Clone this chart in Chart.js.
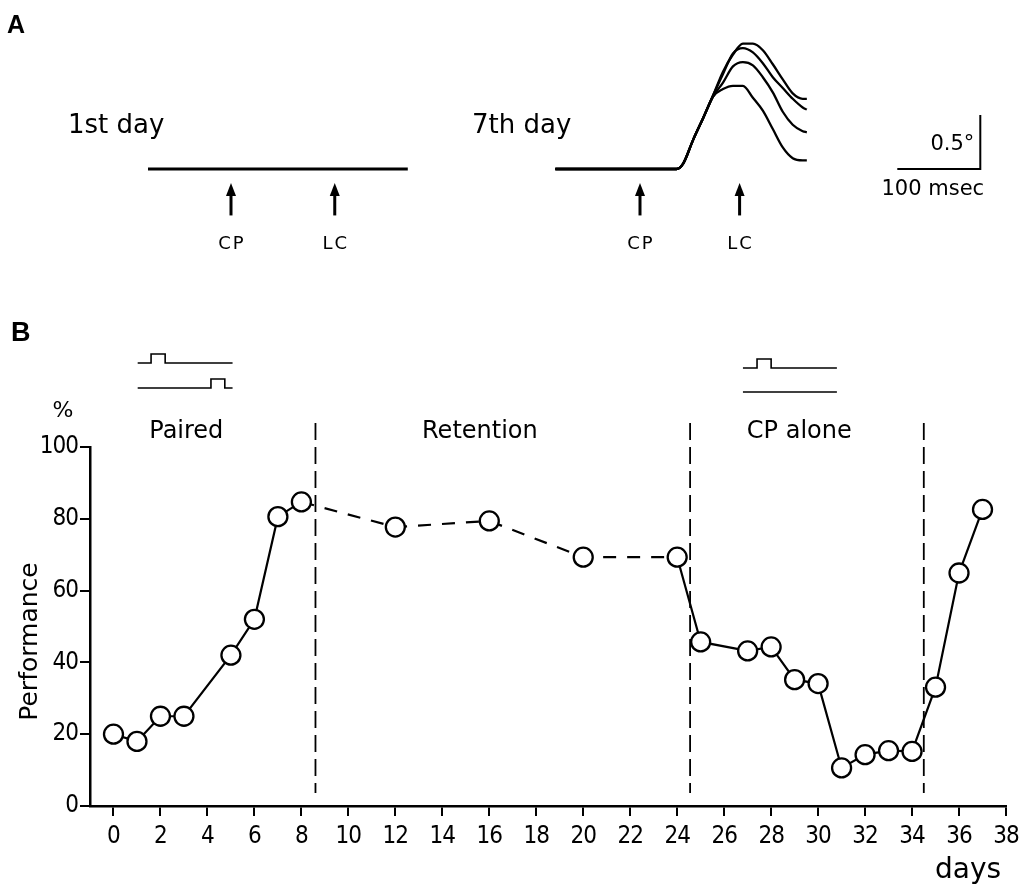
<!DOCTYPE html>
<html>
<head>
<meta charset="utf-8">
<script src="https://cdn.jsdelivr.net/npm/chart.js@4.4.1/dist/chart.umd.min.js"></script>
<style>
  html, body { margin:0; padding:0; background:#fff; }
  body { width:1032px; height:885px; position:relative; overflow:hidden; }
  canvas { position:absolute; }
</style>
</head>
<body>
<canvas id="traceDay1" width="450" height="290" style="left:0;top:0"></canvas>
<canvas id="traceDay7" width="582" height="290" style="left:450px;top:0"></canvas>
<canvas id="perfChart" width="1032" height="595" style="left:0;top:290px"></canvas>
<script>
// panel B: performance per training day
const days = [0, 1, 2, 3, 5, 6, 7, 8, 12, 16, 20, 24, 25, 27, 28, 29, 30, 31, 32, 33, 34, 35, 36, 37];
const performance = [20, 18, 25, 25, 42, 52, 80.6, 84.7, 77.7, 79.4, 69.3, 69.3, 45.7, 43.2, 44.3, 35.2, 34.1, 10.6, 14.3, 15.4, 15.2, 33.1, 64.9, 82.6];
const xTicks = [0, 2, 4, 6, 8, 10, 12, 14, 16, 18, 20, 22, 24, 26, 28, 30, 32, 34, 36, 38];
const yTicks = [0, 20, 40, 60, 80, 100];
const phaseNames = ['Paired', 'Retention', 'CP alone'];
const phaseLabelDay = [3.1, 15.6, 29.2];
const phaseBreaks = [8.6, 24.55, 34.5];
const retentionDays = [8, 24];   // joined by the dashed line

// panel A: eyelid traces, ms from CP onset vs degrees
const day1Ms = [-100, 213];
const day1Deg = [0, 0];
const day7Ms = [-102, 44, 52, 64, 76, 88, 100, 112, 124, 136, 148, 160, 172, 184, 196, 201];
const day7Deg = [
  [0, 0, 0.05, 0.27, 0.47, 0.68, 0.90, 1.06, 1.16, 1.16, 1.10, 0.97, 0.83, 0.70, 0.65, 0.65],
  [0, 0, 0.05, 0.27, 0.47, 0.68, 0.88, 1.07, 1.12, 1.08, 0.98, 0.85, 0.75, 0.65, 0.57, 0.55],
  [0, 0, 0.05, 0.27, 0.47, 0.67, 0.80, 0.95, 0.99, 0.96, 0.85, 0.71, 0.53, 0.41, 0.35, 0.34],
  [0, 0, 0.05, 0.27, 0.47, 0.67, 0.74, 0.77, 0.77, 0.66, 0.54, 0.37, 0.20, 0.10, 0.08, 0.08]
];
const stimDay1 = [0, 125];   // CP, LC onset (ms)
const stimDay7 = [0, 120];
const stimNames = ['CP', 'LC'];
const scaleBar = { ms: 100, deg: 0.5, at: 310 };

Chart.defaults.font.family = '"DejaVu Sans", sans-serif';
Chart.defaults.color = '#000';
Chart.defaults.animation = false;

const PX_PER_MS = 0.83, PX_PER_DEG = 108, BASE_Y = 169, A_HEIGHT = 290;
const TEXT_FONT = '"DejaVu Sans", sans-serif';

function drawArrow(ctx, x, yTop, yBot){
  ctx.save();
  ctx.strokeStyle = '#000';
  ctx.fillStyle = '#000';
  ctx.lineWidth = 3;
  ctx.beginPath();
  ctx.moveTo(x, yTop + 8);
  ctx.lineTo(x, yBot);
  ctx.stroke();
  ctx.beginPath();
  ctx.moveTo(x, yTop);
  ctx.lineTo(x - 5, yTop + 13);
  ctx.lineTo(x + 5, yTop + 13);
  ctx.closePath();
  ctx.fill();
  ctx.restore();
}

function traceChart(id, left, width, cpX, datasets, stim, extra){
  const xs = { type:'linear', display:false, min:(left - cpX) / PX_PER_MS, max:(left + width - cpX) / PX_PER_MS };
  const ys = { type:'linear', display:false, min:-(A_HEIGHT - BASE_Y) / PX_PER_DEG, max:BASE_Y / PX_PER_DEG };
  return new Chart(document.getElementById(id), {
    type: 'line',
    data: { datasets },
    options: {
      responsive: false,
      layout: { padding: 0 },
      scales: { x: xs, y: ys },
      elements: { point: { radius: 0 }, line: { cubicInterpolationMode: 'monotone', borderColor: '#000', borderWidth: 2 } },
      plugins: { legend: { display: false }, tooltip: { enabled: false } }
    },
    plugins: [{
      id: 'stimMarks',
      afterDraw(c){
        const {ctx} = c;
        const x = c.scales.x, y = c.scales.y;
        stim.forEach((t, i) => {
          const px = x.getPixelForValue(t);
          drawArrow(ctx, px, y.getPixelForValue(-0.13), y.getPixelForValue(-0.43));
          ctx.save();
          ctx.font = '18px ' + TEXT_FONT;
          ctx.letterSpacing = '2px';
          ctx.textAlign = 'center';
          ctx.textBaseline = 'middle';
          ctx.fillText(stimNames[i], px + 1, y.getPixelForValue(-0.70));
          ctx.restore();
        });
        if(extra) extra(c);
      }
    }]
  });
}

traceChart('traceDay1', 0, 450, 231,
  [{ data: day1Ms.map((t, i) => ({x:t, y:day1Deg[i]})), borderWidth: 3.2 }],
  stimDay1,
  c => {
    const {ctx} = c;
    ctx.save();
    ctx.font = 'bold 25px "Liberation Sans", Arial, sans-serif';
    ctx.textBaseline = 'middle';
    ctx.fillText('A', 7, 26);
    ctx.font = '26px ' + TEXT_FONT;
    ctx.textBaseline = 'alphabetic';
    ctx.fillText('1st day', 68, 133);
    ctx.restore();
  });

traceChart('traceDay7', 450, 582, 640,
  day7Deg.map(d => ({ data: day7Ms.map((t, i) => ({x:t, y:d[i]})), borderWidth: 2.3 })),
  stimDay7,
  c => {
    const {ctx} = c;
    const x = c.scales.x, y = c.scales.y;
    const x0 = x.getPixelForValue(scaleBar.at), x1 = x.getPixelForValue(scaleBar.at + scaleBar.ms);
    const y0 = y.getPixelForValue(0), y1 = y.getPixelForValue(scaleBar.deg);
    ctx.save();
    ctx.strokeStyle = '#000';
    ctx.lineWidth = 2;
    ctx.beginPath();
    ctx.moveTo(x0, y0); ctx.lineTo(x1, y0); ctx.lineTo(x1, y1);
    ctx.stroke();
    ctx.font = '21px ' + TEXT_FONT;
    ctx.textBaseline = 'middle';
    ctx.textAlign = 'right';
    ctx.fillText('0.5°', x1 - 6, y.getPixelForValue(0.23));
    ctx.textAlign = 'center';
    ctx.fillText('100 msec', (x0 + x1) / 2 - 6, y.getPixelForValue(-0.19));
    ctx.font = '26px ' + TEXT_FONT;
    ctx.textAlign = 'left';
    ctx.textBaseline = 'alphabetic';
    ctx.fillText('7th day', 472 - 450, 133);
    ctx.restore();
  });

// stimulus timing sketches above panel B
const stimSketches = [
  { from: 1.03, to: 5.07, rows: [[1.6, 2.2], [4.15, 4.74]], lift: [84, 59] },
  { from: 26.8, to: 30.8, rows: [[27.4, 28.0], null], lift: [79, 55] }
];

const perfAnnotations = {
  id: 'perfAnnotations',
  beforeDraw(c){
    c.ctx.letterSpacing = '-1px';   // narrower tick digits
  },
  beforeDatasetsDraw(c){
    const {ctx, chartArea} = c;
    const x = c.scales.x;
    ctx.save();
    ctx.strokeStyle = '#000';
    ctx.lineWidth = 1.8;
    ctx.setLineDash([17, 7]);
    phaseBreaks.forEach(d => {
      const px = x.getPixelForValue(d);
      ctx.beginPath();
      ctx.moveTo(px, chartArea.top - 24);
      ctx.lineTo(px, chartArea.bottom - 13);
      ctx.stroke();
    });
    ctx.restore();
  },
  afterDraw(c){
    const {ctx, chartArea} = c;
    const x = c.scales.x;
    ctx.save();
    ctx.letterSpacing = '0px';
    ctx.fillStyle = '#000';
    ctx.strokeStyle = '#000';

    ctx.font = 'bold 27px "Liberation Sans", Arial, sans-serif';
    ctx.textBaseline = 'middle';
    ctx.fillText('B', 11, chartArea.top - 113);

    ctx.font = '24px ' + TEXT_FONT;
    ctx.textAlign = 'center';
    phaseNames.forEach((n, i) => ctx.fillText(n, x.getPixelForValue(phaseLabelDay[i]), chartArea.top - 15));

    ctx.font = '22px ' + TEXT_FONT;
    ctx.fillText('%', 63, chartArea.top - 36);

    ctx.save();
    ctx.translate(30, (chartArea.top + chartArea.bottom) / 2 + 15);
    ctx.rotate(-Math.PI / 2);
    ctx.font = '25px ' + TEXT_FONT;
    ctx.fillText('Performance', 0, 0);
    ctx.restore();

    ctx.font = '28px ' + TEXT_FONT;
    ctx.textBaseline = 'alphabetic';
    ctx.fillText('days', 968, 588);

    ctx.lineWidth = 1.6;
    stimSketches.forEach(s => {
      const a = x.getPixelForValue(s.from), b = x.getPixelForValue(s.to);
      s.rows.forEach((p, r) => {
        const yy = chartArea.top - s.lift[r];
        ctx.beginPath();
        if(p){
          const p0 = x.getPixelForValue(p[0]), p1 = x.getPixelForValue(p[1]);
          ctx.moveTo(a, yy); ctx.lineTo(p0, yy); ctx.lineTo(p0, yy - 9);
          ctx.lineTo(p1, yy - 9); ctx.lineTo(p1, yy); ctx.lineTo(b, yy);
        } else {
          ctx.moveTo(a, yy); ctx.lineTo(b, yy);
        }
        ctx.stroke();
      });
    });
    ctx.restore();
  }
};

const tickFont = { family: '"Liberation Sans Narrow", "DejaVu Sans Condensed", "DejaVu Sans", sans-serif', size: 24 };
const axisGrid = { display: true, drawOnChartArea: false, drawTicks: true, tickLength: 10, color: '#000', lineWidth: 2 };

new Chart(document.getElementById('perfChart'), {
  type: 'line',
  data: {
    datasets: [{
      data: days.map((d, i) => ({x:d, y:performance[i]})),
      borderColor: '#000',
      borderWidth: 2.2,
      pointRadius: 9.5,
      pointBorderWidth: 2.3,
      pointBackgroundColor: '#fff',
      pointBorderColor: '#000',
      tension: 0,
      segment: {
        borderDash: ctx => (ctx.p0.parsed.x >= retentionDays[0] && ctx.p1.parsed.x <= retentionDays[1]) ? [13, 11] : undefined
      }
    }]
  },
  options: {
    responsive: false,
    layout: { padding: { top: 157, right: 26, left: 0, bottom: 0 } },
    scales: {
      x: {
        type: 'linear', min: -1, max: 38,
        afterBuildTicks: s => { s.ticks = xTicks.map(v => ({value: v})); },
        afterFit: s => { s.height = 79; },
        grid: axisGrid,
        border: { display: true, color: '#000', width: 2.5 },
        ticks: { font: tickFont, padding: 6, maxRotation: 0, autoSkip: false }
      },
      y: {
        type: 'linear', min: 0, max: 100,
        afterBuildTicks: s => { s.ticks = yTicks.map(v => ({value: v})); },
        afterFit: s => { s.width = 90; },
        grid: axisGrid,
        border: { display: true, color: '#000', width: 2.5 },
        ticks: { font: tickFont, padding: 2 }
      }
    },
    plugins: { legend: { display: false }, tooltip: { enabled: false } }
  },
  plugins: [perfAnnotations]
});
</script>
</body>
</html>
